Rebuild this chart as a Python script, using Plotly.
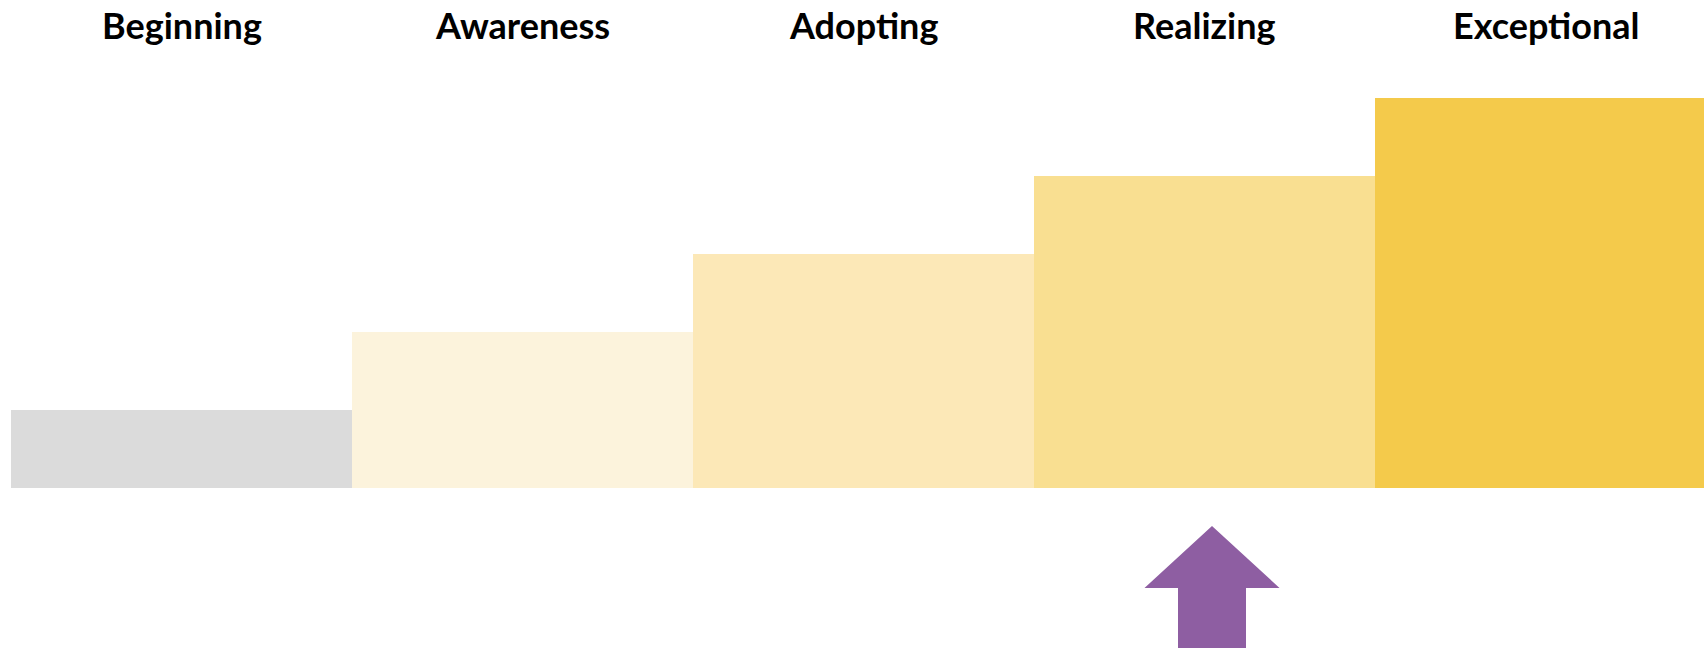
import plotly.graph_objects as go

# Data
levels = ["Beginning", "Awareness", "Adopting", "Realizing", "Exceptional"]
values = [1, 2, 3, 4, 5]
colors = ["#DBDBDB", "#FCF3DC", "#FCE8B7", "#F9DF91", "#F4CA4B"]
current_level = "Realizing"
arrow_color = "#8E5EA2"

x_idx = list(range(len(levels)))

fig = go.Figure()
fig.add_trace(go.Bar(
    x=x_idx, y=values, width=[1] * len(levels),
    marker=dict(color=colors, line=dict(width=0)),
    hoverinfo="skip", showlegend=False,
))

# Level labels at the top
for i, name in zip(x_idx, levels):
    fig.add_annotation(
        x=i, y=1, xref="x", yref="paper", yanchor="middle",
        yshift=-25, text=f"<b>{name}</b>", showarrow=False,
        font=dict(family="Lato", size=36, color="#000000"),
    )

# Arrow pointing to the current level
ci = levels.index(current_level) + 0.022
tip_y, wing_y, bot_y = -0.487, -1.282, -2.3
wing_hw, shaft_hw = 0.198, 0.0997
path = (f"M {ci} {tip_y} L {ci + wing_hw} {wing_y} L {ci + shaft_hw} {wing_y} "
        f"L {ci + shaft_hw} {bot_y} L {ci - shaft_hw} {bot_y} L {ci - shaft_hw} {wing_y} "
        f"L {ci - wing_hw} {wing_y} Z")
fig.add_shape(type="path", path=path, xref="x", yref="y",
              fillcolor=arrow_color, line=dict(width=0), layer="above")

fig.update_layout(
    width=1704, height=648,
    margin=dict(l=11, r=0, t=0, b=0),
    paper_bgcolor="white", plot_bgcolor="white",
    bargap=0,
    xaxis=dict(range=[-0.5, -0.5 + 1693 / 341], visible=False, fixedrange=True),
    yaxis=dict(range=[-160 / 78, 488 / 78], visible=False, fixedrange=True),
)

fig.write_html("out.html")
